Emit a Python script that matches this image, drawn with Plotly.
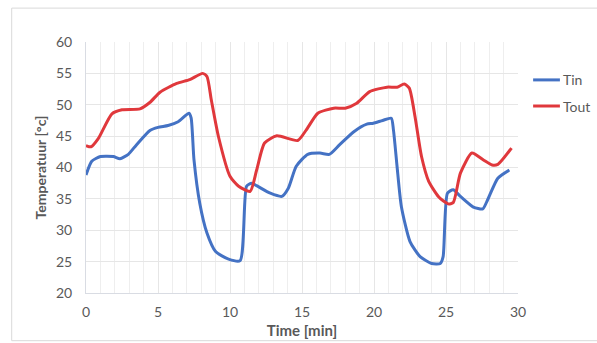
import plotly.graph_objects as go

# Tin (blue)
tin_t = [0, 0.4, 1.0, 1.9, 2.36, 2.94, 3.5, 4.44, 5.0, 5.7, 6.4, 7.15, 7.3, 7.5, 7.9, 8.4, 9.0, 9.9,
         10.7, 11.15, 11.5, 11.85, 12.8, 13.6, 14.05, 14.6, 15.4, 16.25, 16.9, 17.6, 18.6, 19.5,
         19.95, 20.6, 21.2, 21.35, 21.6, 21.9, 22.5, 23.2, 24.0, 24.6, 24.8, 25.1, 25.5, 26.0,
         26.9, 27.55, 27.9, 28.6, 29.4]
tin_v = [38.8, 41.0, 41.75, 41.75, 41.4, 42.1, 43.6, 45.9, 46.4, 46.7, 47.3, 48.65, 47.9, 41.2, 34.3, 29.55, 26.6, 25.4,
         25.15, 37.0, 37.5, 37.1, 35.9, 35.4, 36.7, 40.2, 42.1, 42.3, 42.1, 43.6, 45.7, 46.9,
         47.05, 47.5, 47.85, 46.0, 40.2, 33.8, 28.2, 25.8, 24.7, 24.7, 25.8, 35.9, 36.45, 35.4,
         33.7, 33.4, 34.9, 38.3, 39.6]

# Tout (red)
tout_t = [0, 0.35, 0.85, 1.8, 2.5, 3.75, 4.45, 5.14, 6.3, 7.2, 8.1, 8.4, 8.7, 9.2, 10.0,
          10.6, 11.4, 11.85, 12.4, 13.25, 14.7, 15.3, 16.1, 17.2, 18.0, 18.8, 19.7,
          20.9, 21.6, 22.1, 22.45, 22.85, 23.3, 23.8, 24.5, 25.15, 25.5, 26.0, 26.8, 27.6,
          28.2, 28.6, 29.55]
tout_v = [43.5, 43.3, 44.6, 48.55, 49.2, 49.35, 50.4, 52.0, 53.4, 54.0, 55.0, 54.5, 50.8, 44.9, 38.6,
          37.0, 36.2, 39.6, 43.9, 45.05, 44.3, 46.0, 48.65, 49.45, 49.45, 50.25, 52.1,
          52.8, 52.8, 53.3, 52.65, 48.1, 41.75, 37.8, 35.3, 34.2, 34.4, 39.1, 42.3, 41.2,
          40.4, 40.5, 43.1]

series_names = ["Tin", "Tout"]
series_colors = ["#4472C4", "#E0383C"]
x_ticks = [0, 5, 10, 15, 20, 25, 30]
y_ticks = [20, 25, 30, 35, 40, 45, 50, 55, 60]

FONT = "Lato, 'Open Sans', sans-serif"
GREY = "#595959"

fig = go.Figure()
for (tt, vv), name, col in zip([(tin_t, tin_v), (tout_t, tout_v)], series_names, series_colors):
    fig.add_trace(go.Scatter(x=tt, y=vv, mode="lines", name=name, showlegend=False,
                             line=dict(color=col, width=3, shape="spline", smoothing=0.6)))

# manual legend (outside plot on the right)
shapes = [dict(type="rect", xref="paper", yref="paper", x0=-0.172, x1=1.19, y0=-0.19, y1=1.135,
               line=dict(color="#D9D9D9", width=1))]
annotations = []
leg_y = [0.849, 0.745]
for name, col, ly in zip(series_names, series_colors, leg_y):
    shapes.append(dict(type="line", xref="paper", yref="paper", x0=1.035, x1=1.097, y0=ly, y1=ly,
                       line=dict(color=col, width=3)))
    annotations.append(dict(xref="paper", yref="paper", x=1.100, y=ly, text=name, showarrow=False,
                            xanchor="left", yanchor="middle", font=dict(size=14, color=GREY)))

fig.update_layout(
    width=597, height=343,
    margin=dict(l=86, r=79, t=42, b=50),
    paper_bgcolor="white", plot_bgcolor="white",
    font=dict(family=FONT, size=14, color=GREY),
    showlegend=False,
    xaxis=dict(range=[0, 30], tickvals=x_ticks, showgrid=True, gridcolor="#E6E6E6",
               minor=dict(dtick=1, showgrid=True, gridcolor="#EEEEEE"),
               showline=True, linecolor="#D9DCE3", zeroline=False, ticks="",
               tickfont=dict(size=14), ticklabelstandoff=6, automargin=False,
               title=dict(text="<b>Time [min]</b>", font=dict(size=15, color=GREY), standoff=6)),
    yaxis=dict(range=[20, 60], tickvals=y_ticks, showgrid=True, gridcolor="#E6E6E6",
               showline=True, linecolor="#D9DCE3", zeroline=False, ticks="",
               tickfont=dict(size=14), ticklabelstandoff=10, automargin=False,
               title=dict(text="<b>Temperatuur [°c]</b>", font=dict(size=14, color=GREY), standoff=6)),
    shapes=shapes,
    annotations=annotations,
)

fig.write_html("out.html")
